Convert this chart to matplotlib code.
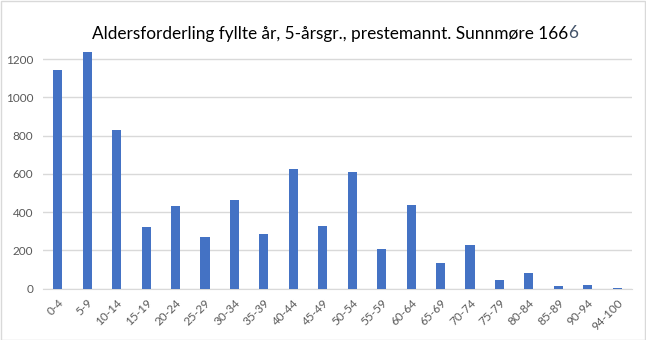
import numpy as np
import matplotlib
matplotlib.use("Agg")
import matplotlib.pyplot as plt
from matplotlib.patches import Rectangle

# age groups and counts
groups = ["0-4", "5-9", "10-14", "15-19", "20-24", "25-29", "30-34", "35-39",
          "40-44", "45-49", "50-54", "55-59", "60-64", "65-69", "70-74",
          "75-79", "80-84", "85-89", "90-94", "94-100"]
counts = [1143, 1237, 829, 322, 434, 270, 466, 286, 626, 328,
          610, 209, 435, 135, 230, 46, 82, 14, 19, 4]
yticks = [0, 200, 400, 600, 800, 1000, 1200]
title = "Aldersforderling fyllte år, 5-årsgr., prestemannt. Sunnmøre 166"
title_last = "6"

plt.rcParams["font.family"] = ["Lato", "DejaVu Sans"]

W, H = 646, 340
fig = plt.figure(figsize=(W / 100, H / 100), dpi=100)
ax = fig.add_axes([43 / W, (H - 288.7) / H, (632 - 43) / W, (288.7 - 51.4) / H])

x = np.arange(len(groups))
ax.bar(x, counts, width=0.31, color="#4472C4", zorder=3)

ax.set_xlim(-0.5, len(groups) - 0.5)
ax.set_ylim(0, 1240)
ax.set_yticks(yticks)
ax.set_yticklabels([str(v) for v in yticks])
ax.set_xticks(x)
ax.set_xticklabels(groups, rotation=45, ha="right", rotation_mode="anchor")

ax.yaxis.grid(True, color="#D9D9D9", linewidth=1, zorder=0)
for s in ["top", "right", "left"]:
    ax.spines[s].set_visible(False)
ax.spines["bottom"].set_color("#D9D9D9")
ax.tick_params(axis="both", length=0, colors="#595959", labelsize=8.5)
ax.tick_params(axis="y", pad=7)
ax.tick_params(axis="x", pad=6)

# title, last digit drawn in a slightly different tone like the original
t = fig.text(92 / W, (H - 33.5) / H, title, ha="left", va="center",
             fontsize=12.4, color="#000000")
fig.canvas.draw()
bb = t.get_window_extent(fig.canvas.get_renderer())
fig.text(bb.x1 / W, (H - 33.5) / H, title_last, ha="left", va="center",
         fontsize=12.4, color="#44546A")

# outer chart border
fig.patches.append(Rectangle((0.5 / W, 0.5 / H), 1 - 1.5 / W, 1 - 1.5 / H,
                             transform=fig.transFigure, fill=False,
                             edgecolor="#D9D9D9", linewidth=1))

fig.savefig("out.png", dpi=100)
